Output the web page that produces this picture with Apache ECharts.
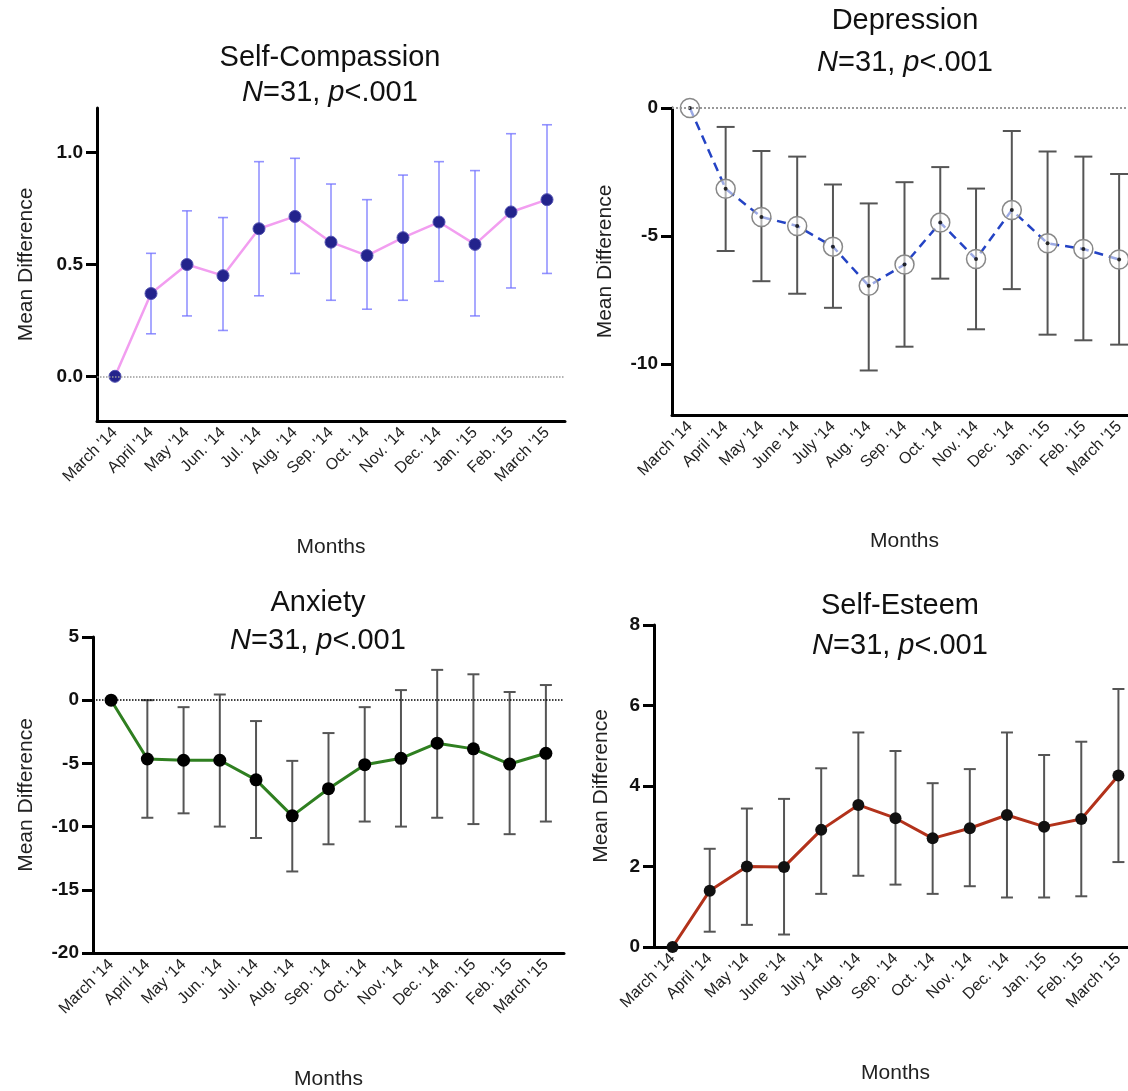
<!DOCTYPE html>
<html>
<head>
<meta charset="utf-8">
<script src="https://cdn.jsdelivr.net/npm/echarts@6/dist/echarts.min.js"></script>
<style>html,body{margin:0;padding:0;background:#fff}#c{width:1128px;height:1091px}</style>
</head>
<body>
<div id="c"></div>
<script>
// ---- Data ----
const monthsA = ["March '14","April '14","May '14","Jun. '14","Jul. '14","Aug. '14","Sep. '14","Oct. '14","Nov. '14","Dec. '14","Jan. '15","Feb. '15","March '15"];
const monthsB = ["March '14","April '14","May '14","June '14","July '14","Aug. '14","Sep. '14","Oct. '14","Nov. '14","Dec. '14","Jan. '15","Feb. '15","March '15"];

const scMean = [0, 0.37, 0.50, 0.45, 0.66, 0.715, 0.60, 0.54, 0.62, 0.69, 0.59, 0.735, 0.79];
const scLow  = [null, 0.19, 0.27, 0.205, 0.36, 0.46, 0.34, 0.30, 0.34, 0.425, 0.27, 0.395, 0.46];
const scHigh = [null, 0.55, 0.74, 0.71, 0.96, 0.975, 0.86, 0.79, 0.90, 0.96, 0.92, 1.085, 1.125];

const depMean = [0, -3.16, -4.26, -4.61, -5.42, -6.95, -6.12, -4.48, -5.90, -3.99, -5.29, -5.51, -5.92];
const depLow  = [null, -5.59, -6.77, -7.26, -7.81, -10.26, -9.33, -6.67, -8.65, -7.08, -8.86, -9.08, -9.25];
const depHigh = [null, -0.74, -1.68, -1.90, -2.99, -3.73, -2.90, -2.31, -3.15, -0.90, -1.70, -1.90, -2.58];

const anxMean = [0, -4.65, -4.75, -4.75, -6.3, -9.15, -7.0, -5.1, -4.6, -3.4, -3.85, -5.05, -4.2];
const anxLow  = [null, -9.3, -8.95, -10.0, -10.9, -13.55, -11.4, -9.6, -10.0, -9.3, -9.8, -10.6, -9.6];
const anxHigh = [null, 0, -0.55, 0.45, -1.65, -4.8, -2.6, -0.55, 0.8, 2.4, 2.05, 0.65, 1.2];

const seMean = [0, 1.40, 2.00, 1.99, 2.91, 3.53, 3.20, 2.70, 2.95, 3.28, 2.99, 3.18, 4.26];
const seLow  = [null, 0.38, 0.55, 0.31, 1.32, 1.77, 1.55, 1.32, 1.51, 1.23, 1.23, 1.26, 2.11];
const seHigh = [null, 2.44, 3.44, 3.68, 4.44, 5.33, 4.87, 4.07, 4.42, 5.33, 4.77, 5.10, 6.41];

const FONT = "'Liberation Sans', Arial, Helvetica, sans-serif";

function errData(lo, hi) {
  const out = [];
  for (let i = 0; i < lo.length; i++) if (lo[i] !== null) out.push([i, lo[i], hi[i]]);
  return out;
}
function errSeries(idx, lo, hi, color, width, capHalf, opacity) {
  return {
    type: 'custom', xAxisIndex: idx, yAxisIndex: idx, z: 1,
    data: errData(lo, hi),
    encode: { x: 0, y: [1, 2] },
    renderItem: function (params, api) {
      const x = api.value(0);
      const a = api.coord([x, api.value(1)]);
      const b = api.coord([x, api.value(2)]);
      const st = { stroke: color, lineWidth: width, opacity: opacity };
      return {
        type: 'group',
        children: [
          { type: 'line', shape: { x1: a[0], y1: a[1], x2: b[0], y2: b[1] }, style: st },
          { type: 'line', shape: { x1: a[0] - capHalf, y1: a[1], x2: a[0] + capHalf, y2: a[1] }, style: st },
          { type: 'line', shape: { x1: b[0] - capHalf, y1: b[1], x2: b[0] + capHalf, y2: b[1] }, style: st }
        ]
      };
    }
  };
}

function xAx(idx, cats) {
  return {
    type: 'category', gridIndex: idx, data: cats, boundaryGap: true,
    name: 'Months', nameLocation: 'middle', nameGap: 116,
    nameTextStyle: { fontFamily: FONT, fontSize: 21, color: '#222' },
    axisLine: { onZero: false, lineStyle: { color: '#000', width: 3 } },
    axisTick: { alignWithLabel: true, length: 11, lineStyle: { color: '#000', width: 3 } },
    axisLabel: { rotate: 45, fontFamily: FONT, fontSize: 16, color: '#222', margin: 9, interval: 0 },
    splitLine: { show: false }
  };
}
function yAx(idx, min, max, interval, vals, fmt, nameGap) {
  return {
    type: 'value', gridIndex: idx, min: min, max: max, interval: interval,
    name: 'Mean Difference', nameLocation: 'middle', nameRotate: 90, nameGap: nameGap,
    nameTextStyle: { fontFamily: FONT, fontSize: 21, color: '#222' },
    axisLine: { show: true, lineStyle: { color: '#000', width: 3 } },
    axisTick: { show: true, length: 11, customValues: vals, lineStyle: { color: '#000', width: 3 } },
    axisLabel: { customValues: vals, fontFamily: FONT, fontSize: 19, fontWeight: 'bold', color: '#111', margin: 14, formatter: fmt },
    splitLine: { show: false }
  };
}
function zeroLine(color, width) {
  return { silent: true, symbol: 'none', label: { show: false },
    lineStyle: { type: 'dotted', color: color, width: width },
    data: [{ yAxis: 0 }] };
}
const TS = 29;
const rich = {
  i: { fontStyle: 'italic', fontFamily: FONT, fontSize: TS, color: '#111' },
  n: { fontFamily: FONT, fontSize: TS, color: '#111' }
};
function titles(text, x, y1, y2) {
  return [
    { text: text, left: x, top: y1, textAlign: 'center', padding: 0,
      textStyle: { fontFamily: FONT, fontSize: TS, fontWeight: 'normal', color: '#111' } },
    { text: '{i|N}{n|=31, }{i|p}{n|<.001}', left: x, top: y2, textAlign: 'center', padding: 0,
      textStyle: { rich: rich, fontFamily: FONT, fontSize: TS, fontWeight: 'normal', color: '#111' } }
  ];
}

const chart = echarts.init(document.getElementById('c'), null, { renderer: 'canvas' });
chart.setOption({
  backgroundColor: '#fff',
  animation: false,
  title: [].concat(
    titles('Self-Compassion', 330, 43, 78),
    titles('Depression', 905, 6, 48),
    titles('Anxiety', 318, 588, 626),
    titles('Self-Esteem', 900, 591, 631)
  ),
  grid: [
    { left: 97, top: 108, width: 468, height: 313, outerBoundsMode: 'none' },
    { left: 672, top: 108, width: 465, height: 307, outerBoundsMode: 'none' },
    { left: 93, top: 637, width: 471, height: 316, outerBoundsMode: 'none' },
    { left: 654, top: 625, width: 483, height: 322, outerBoundsMode: 'none' }
  ],
  xAxis: [xAx(0, monthsA), xAx(1, monthsB), xAx(2, monthsA), xAx(3, monthsB)],
  yAxis: [
    yAx(0, -0.2, 1.2, 0.1, [0, 0.5, 1], v => v.toFixed(1), 60),
    yAx(1, -12, 0, 1, [-10, -5, 0], v => String(v), 56),
    yAx(2, -20, 5, 5, [-20, -15, -10, -5, 0, 5], v => String(v), 56),
    yAx(3, 0, 8, 2, [0, 2, 4, 6, 8], v => String(v), 42)
  ],
  series: [
    errSeries(0, scLow, scHigh, '#6f6fff', 1.6, 5, 0.75),
    { type: 'line', xAxisIndex: 0, yAxisIndex: 0, data: scMean, z: 3,
      lineStyle: { color: '#f29ef0', width: 2.5 },
      symbol: 'circle', symbolSize: 12,
      itemStyle: { color: '#23238c', borderColor: '#5050b0', borderWidth: 1 },
      markLine: zeroLine('#999', 1.5) },

    errSeries(1, depLow, depHigh, '#555', 2, 9, 1),
    { type: 'line', xAxisIndex: 1, yAxisIndex: 1, data: depMean, z: 3,
      lineStyle: { color: '#2443c4', width: 2.5, type: [9, 6] },
      symbol: 'circle', symbolSize: 19,
      itemStyle: { color: 'rgba(255,255,255,0.55)', borderColor: '#888', borderWidth: 1.5 },
      markLine: zeroLine('#999', 2) },
    { type: 'scatter', xAxisIndex: 1, yAxisIndex: 1, data: depMean, z: 4,
      symbol: 'circle', symbolSize: 4, itemStyle: { color: '#000' } },

    errSeries(2, anxLow, anxHigh, '#555', 2, 6, 1),
    { type: 'line', xAxisIndex: 2, yAxisIndex: 2, data: anxMean, z: 3,
      lineStyle: { color: '#2f7f20', width: 3 },
      symbol: 'circle', symbolSize: 13,
      itemStyle: { color: '#000' },
      markLine: zeroLine('#000', 1.5) },

    errSeries(3, seLow, seHigh, '#555', 2, 6, 1),
    { type: 'line', xAxisIndex: 3, yAxisIndex: 3, data: seMean, z: 3,
      lineStyle: { color: '#b2321b', width: 3 },
      symbol: 'circle', symbolSize: 12,
      itemStyle: { color: '#111' } }
  ]
});
</script>
</body>
</html>
